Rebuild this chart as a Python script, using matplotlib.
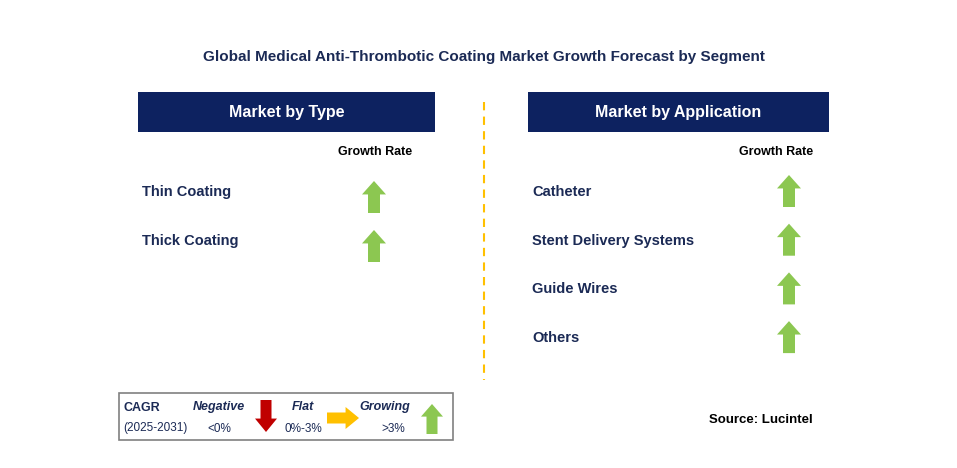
import matplotlib
matplotlib.use("Agg")
import matplotlib.pyplot as plt
from matplotlib.patches import Rectangle, Polygon

plt.rcParams["font.family"] = "Liberation Sans"

title = "Global Medical Anti-Thrombotic Coating Market Growth Forecast by Segment"
type_header = "Market by Type"
app_header = "Market by Application"
type_cats = ["Thin Coating", "Thick Coating"]
type_growth = ["up", "up"]
app_cats = ["Catheter", "Stent Delivery Systems", "Guide Wires", "Others"]
app_growth = ["up", "up", "up", "up"]

NAVY = "#0d2260"
TXT = "#1b2a55"
GREEN = "#8cc751"
RED = "#c00000"
YEL = "#ffc000"

fig = plt.figure(figsize=(9.57, 4.68), dpi=100)
ax = fig.add_axes([0, 0, 1, 1])
ax.set_xlim(0, 957); ax.set_ylim(468, 0); ax.axis("off")

def arrow_pts_up(cx, cy, w, h):
    sw = w * 0.5; hh = h * 0.42
    return [(cx, cy - h/2), (cx + w/2, cy - h/2 + hh), (cx + sw/2, cy - h/2 + hh),
            (cx + sw/2, cy + h/2), (cx - sw/2, cy + h/2), (cx - sw/2, cy - h/2 + hh),
            (cx - w/2, cy - h/2 + hh)]

def arrow(cx, cy, kind, w=24, h=32):
    up = arrow_pts_up(cx, cy, w, h)
    if kind == "up":
        pts, c = up, GREEN
    elif kind == "down":
        pts, c = [(x, 2*cy - y) for x, y in up], RED
    else:
        pts = [(cx + (y - cy), cy + (x - cx)) for x, y in up]
        pts, c = [(2*cx - x, y) for x, y in pts], YEL
    ax.add_patch(Polygon(pts, closed=True, color=c, lw=0))

ax.text(484, 57, title, ha="center", va="center", fontsize=11, fontweight="bold", color=TXT)

for x0, x1, lab in [(138, 435, type_header), (528, 829, app_header)]:
    ax.add_patch(Rectangle((x0, 92), x1 - x0, 40, color=NAVY, lw=0))
    ax.text((x0 + x1)/2, 112, lab, ha="center", va="center", fontsize=11.5, fontweight="bold", color="white")

ax.plot([484, 484], [102, 380], ls=(0, (4, 3)), color=YEL, lw=1.5)

ax.text(375, 152, "Growth Rate", ha="center", va="center", fontsize=9, fontweight="bold", color="black")
ax.text(776, 152, "Growth Rate", ha="center", va="center", fontsize=9, fontweight="bold", color="black")

for i, (c, g) in enumerate(zip(type_cats, type_growth)):
    y = 192 + i * 49
    ax.text(142, y, c, ha="left", va="center", fontsize=10.5, fontweight="bold", color=TXT)
    arrow(374, y + 5, g)
for i, (c, g) in enumerate(zip(app_cats, app_growth)):
    y = 192 + i * 48.7
    ax.text(532, y, c, ha="left", va="center", fontsize=10.5, fontweight="bold", color=TXT)
    arrow(789, y - 1, g)

# legend
ax.add_patch(Rectangle((119, 393), 334, 47, fill=False, ec="#808080", lw=1.2))
ax.text(124, 408, "CAGR", fontsize=9, fontweight="bold", color=TXT, va="center")
ax.text(123, 428, "(2025-2031)", fontsize=8.5, color=TXT, va="center")
ax.text(219, 407, "Negative", fontsize=9, fontweight="bold", style="italic", color=TXT, ha="center", va="center")
ax.text(219, 429, "<0%", fontsize=8.5, color=TXT, ha="center", va="center")
arrow(266, 416, "down", w=22, h=32)
ax.text(303, 407, "Flat", fontsize=9, fontweight="bold", style="italic", color=TXT, ha="center", va="center")
ax.text(303, 429, "0%-3%", fontsize=8.5, color=TXT, ha="center", va="center")
arrow(343, 418, "right", w=22, h=32)
ax.text(385, 407, "Growing", fontsize=9, fontweight="bold", style="italic", color=TXT, ha="center", va="center")
ax.text(393, 429, ">3%", fontsize=8.5, color=TXT, ha="center", va="center")
arrow(432, 419, "up", w=22, h=30)

ax.text(813, 420, "Source: Lucintel", ha="right", va="center", fontsize=9.5, fontweight="bold", color="black")

fig.savefig("out.png", dpi=100)
